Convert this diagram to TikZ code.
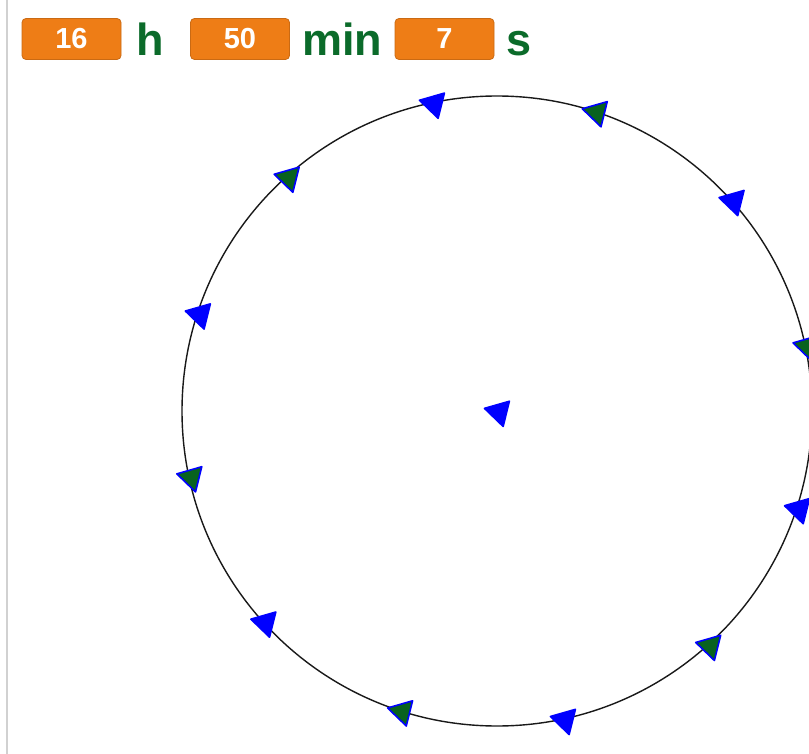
\documentclass[tikz,border=0pt]{standalone}
\usepackage{fontspec}
\setmainfont{Liberation Sans}
\usetikzlibrary{shapes.geometric}
\definecolor{scorange}{HTML}{EE7D16}
\definecolor{scgreen}{HTML}{0B6B2A}
\definecolor{tgreen}{HTML}{08621F}
\begin{document}
\begin{tikzpicture}[x=1pt,y=1pt,
  varbox/.style={fill=scorange, draw=scorange!85!black, line width=0.8pt, rounded corners=4pt,
    minimum width=99pt, minimum height=41pt, inner sep=0pt, text=white,
    font=\fontsize{29}{29}\selectfont\bfseries},
  unitlabel/.style={text=scgreen, font=\fontsize{45}{45}\selectfont\bfseries, anchor=base, inner sep=0pt},
  sprite/.style={regular polygon, regular polygon sides=3, shape border rotate=196,
    minimum size=30pt, inner sep=0pt, draw=blue, line width=1.6pt, line join=round}]
\useasboundingbox (0,0) rectangle (809,-754);
\clip (0,0) rectangle (809,-754);
\fill[white] (0,0) rectangle (809,-754);
\draw[black!18, line width=2pt] (7,0) -- (7,-754);
% variable monitors
\node[varbox] (hbox) at (71.5,-39) {\raisebox{-1.5pt}{16}};
\node[unitlabel] (hlab) at (150,-56) {h};
\node[varbox] (mbox) at (240,-39) {\raisebox{-1.5pt}{50}};
\node[varbox] (sbox) at (444.5,-39) {\raisebox{-1.5pt}{7}};
\node[unitlabel] (mlab) at (342,-56) {min};
\node[unitlabel] (slab) at (519.5,-56) {s};
% pen circle
\coordinate (c) at (497,-411);
\draw[black!90, line width=1.4pt] (c) circle[radius=315];
% sprites on the circle
\foreach \k in {0,...,11}{
  \pgfmathsetmacro{\a}{12+30*\k}
  \pgfmathtruncatemacro{\odd}{mod(\k,2)}
  \ifnum\odd=0
    \node[sprite, fill=tgreen] (s\k) at ([shift={(\a:315)},xshift=2.5pt,yshift=-1pt]c) {};
  \else
    \node[sprite, fill=blue] (s\k) at ([shift={(\a:315)},xshift=2.5pt,yshift=-1pt]c) {};
  \fi
}
\node[sprite, fill=blue] (s12) at (499,-412) {};
\end{tikzpicture}
\end{document}
